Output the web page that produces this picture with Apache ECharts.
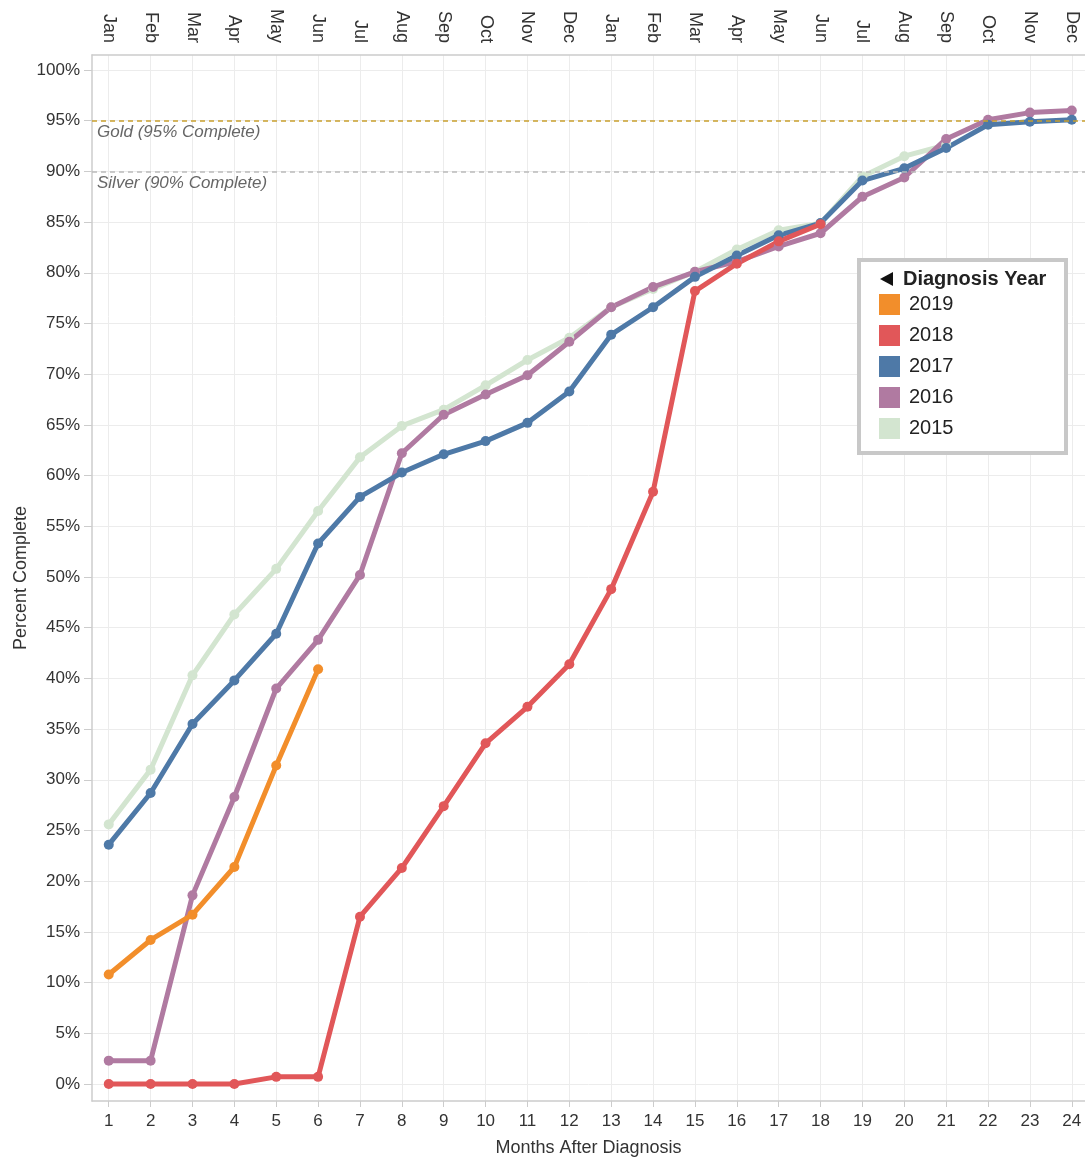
<!DOCTYPE html>
<html>
<head>
<meta charset="utf-8">
<script src="https://cdn.jsdelivr.net/npm/echarts@6/dist/echarts.min.js"></script>
<style>
html,body{margin:0;padding:0;background:#fff;}
#chart{width:1085px;height:1162px;}
</style>
</head>
<body>
<div id="chart"></div>
<script>
// ---- data ----
const months = [1,2,3,4,5,6,7,8,9,10,11,12,13,14,15,16,17,18,19,20,21,22,23,24];
const topMonthLabels = ['Jan','Feb','Mar','Apr','May','Jun','Jul','Aug','Sep','Oct','Nov','Dec',
                        'Jan','Feb','Mar','Apr','May','Jun','Jul','Aug','Sep','Oct','Nov','Dec'];
const yTicks = [0,5,10,15,20,25,30,35,40,45,50,55,60,65,70,75,80,85,90,95,100];
const years = ['2019','2018','2017','2016','2015'];
const y2019 = [10.8, 14.2, 16.7, 21.4, 31.4, 40.9];
const y2018 = [0, 0, 0, 0, 0.7, 0.7, 16.5, 21.3, 27.4, 33.6, 37.2, 41.4, 48.8, 58.4, 78.2, 80.9, 83.1, 84.8];
const y2017 = [23.6, 28.7, 35.5, 39.8, 44.4, 53.3, 57.9, 60.3, 62.1, 63.4, 65.2, 68.3, 73.9, 76.6, 79.6, 81.7, 83.7, 84.9, 89.1, 90.3, 92.3, 94.6, 94.9, 95.1];
const y2016 = [2.3, 2.3, 18.6, 28.3, 39.0, 43.8, 50.2, 62.2, 66.0, 68.0, 69.9, 73.2, 76.6, 78.6, 80.1, 81.1, 82.6, 83.9, 87.5, 89.4, 93.2, 95.1, 95.8, 96.0];
const y2015 = [25.6, 31.0, 40.3, 46.3, 50.8, 56.5, 61.8, 64.9, 66.5, 68.9, 71.4, 73.6, 76.6, 78.4, 80.1, 82.3, 84.2, 84.9, 89.5, 91.5, 92.6];
const goldLevel = 95, silverLevel = 90;
const goldLabel = 'Gold (95% Complete)', silverLabel = 'Silver (90% Complete)';

const colors = {'2019':'#f28e2b','2018':'#e15759','2017':'#4e79a7','2016':'#b07aa1','2015':'#d3e5d0'};
const seriesValues = {'2019':y2019,'2018':y2018,'2017':y2017,'2016':y2016,'2015':y2015};

const FONT = "'Liberation Sans', Arial, sans-serif";
const axisColor = '#cccccc';
const gridColor = '#ececec';

function makeSeries(name){
  const vals = seriesValues[name];
  return {
    name: name,
    type: 'line',
    data: vals.map((v,i)=>[months[i], v]),
    symbol: 'circle',
    symbolSize: 10,
    showSymbol: true,
    lineStyle: {width: 5, color: colors[name]},
    itemStyle: {color: colors[name]},
    emphasis: {disabled: true},
    z: 2
  };
}

const drawOrder = ['2015','2016','2017','2018','2019'];
const series = drawOrder.map(makeSeries);
series[series.length-1].markLine = {
  silent: true,
  symbol: 'none',
  animation: false,
  label: {position: 'insideStartBottom', fontStyle: 'italic', color: '#666', fontSize: 17, fontFamily: FONT, distance: [5, 3]},
  data: [
    {yAxis: goldLevel, lineStyle: {color: '#c9a02e', type: [5,4], width: 1.5}, label: {formatter: goldLabel}},
    {yAxis: silverLevel, lineStyle: {color: '#bbbbbb', type: [5,4], width: 1.5}, label: {formatter: silverLabel}}
  ]
};

const chart = echarts.init(document.getElementById('chart'));
const xMin = 0.6, xMax = 24.316;
chart.setOption({
  animation: false,
  textStyle: {fontFamily: FONT},
  grid: {left: 92, right: 0, top: 55, bottom: 61},
  xAxis: [
    {
      type: 'value', min: xMin, max: xMax, position: 'bottom',
      axisLine: {show: true, onZero: false, lineStyle: {color: axisColor, width: 1.5}},
      axisTick: {show: true, length: 6, customValues: months, lineStyle: {color: axisColor}},
      axisLabel: {customValues: months, color: '#333', fontSize: 17, margin: 12},
      splitLine: {show: true, lineStyle: {color: gridColor, width: 1}},
      name: 'Months After Diagnosis', nameLocation: 'middle', nameGap: 38, nameMoveOverlap: false,
      nameTextStyle: {fontSize: 18, color: '#333', verticalAlign: 'top'}
    },
    {
      type: 'value', min: xMin, max: xMax, position: 'top',
      axisLine: {show: true, onZero: false, lineStyle: {color: axisColor, width: 1.5}},
      axisTick: {show: false, customValues: months},
      axisLabel: {customValues: months, rotate: 90, color: '#333', fontSize: 18, margin: 12,
                  formatter: v => topMonthLabels[Math.round(v)-1]},
      splitLine: {show: false}
    }
  ],
  yAxis: {
    type: 'value', min: -1.68, max: 101.48,
    axisLine: {show: true, onZero: false, lineStyle: {color: axisColor, width: 1.5}},
    axisTick: {show: true, length: 8, customValues: yTicks, lineStyle: {color: axisColor}},
    axisLabel: {customValues: yTicks, formatter: '{value}%', color: '#333', fontSize: 17, margin: 12},
    splitLine: {show: true, lineStyle: {color: gridColor, width: 1}},
    name: 'Percent Complete', nameLocation: 'middle', nameGap: 62, nameRotate: 90, nameMoveOverlap: false,
    nameTextStyle: {fontSize: 18, color: '#333'}
  },
  legend: {
    orient: 'vertical', left: 879, top: 294, padding: 0,
    itemWidth: 21, itemHeight: 21, itemGap: 10, icon: 'rect',
    data: years, selectedMode: false, z: 10,
    textStyle: {fontSize: 20, color: '#222', padding: [0,0,0,4]}
  },
  graphic: [
    {type: 'rect', z: 5, shape: {x: 859, y: 260, width: 207, height: 193},
     style: {fill: '#fff', stroke: '#c8c8c8', lineWidth: 4}},
    {type: 'polygon', z: 6, shape: {points: [[893,272],[893,286],[880,279]]}, style: {fill: '#111'}},
    {type: 'text', z: 6, x: 903, y: 279,
     style: {text: 'Diagnosis Year', font: "bold 20px 'Liberation Sans', Arial, sans-serif", fill: '#222', verticalAlign: 'middle'}}
  ],
  series: series
});
</script>
</body>
</html>
